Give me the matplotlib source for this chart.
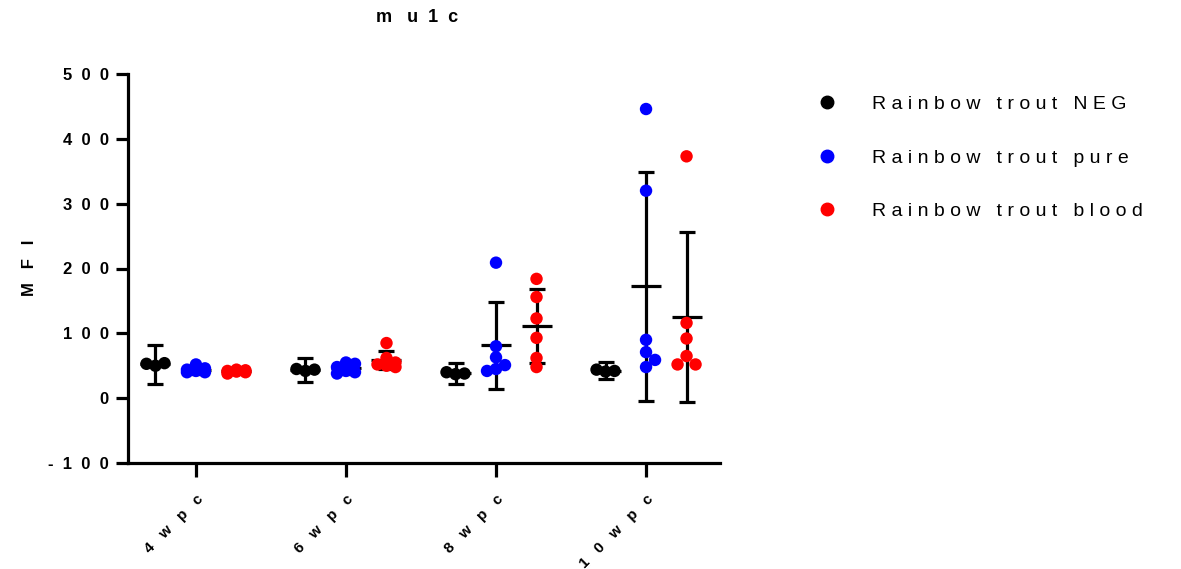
import numpy as np
import matplotlib.pyplot as plt
from matplotlib.lines import Line2D

plt.rcParams['font.family'] = ['Liberation Sans', 'DejaVu Sans']

# data
groups = ["4 wpc", "6 wpc", "8 wpc", "10 wpc"]
series = ["Rainbow trout NEG", "Rainbow trout pure", "Rainbow trout blood"]
colors = ["#000000", "#0000ff", "#ff0000"]

neg_vals = [[50, 54, 53], [42, 44, 45], [37, 38, 40], [41, 42, 44]]
pure_vals = [[52, 46, 44, 42, 40, 40],
             [55, 53, 48, 42, 40, 38],
             [209, 80, 63, 51, 45, 42],
             [446, 320, 90, 71, 59, 48]]
blood_vals = [[44, 43, 42, 41, 40, 38],
              [85, 62, 55, 52, 50, 48],
              [184, 156, 123, 93, 62, 48],
              [373, 116, 92, 65, 52, 52]]
neg_sd = [30, 19, 16, 13]
pure_sd = [6, 8, 67, 177]
blood_sd = [3, 14, 57, 131]

yticks = [-100, 0, 100, 200, 300, 400, 500]


def spaced(s, n=1):
    return (" " * n).join(list(s))


def swarm(ax, xc, vals, diam):
    # rough beeswarm in pixel space, dots may overlap a bit like in Prism
    step = diam * 0.72
    pts = ax.transData.transform(np.column_stack([np.full(len(vals), xc), vals]))
    placed = []
    xs = []
    for px, py in pts:
        best, best_d = px, -1
        for k in [0, 1, -1]:
            cx = px + k * step
            d = min([np.hypot(cx - qx, py - qy) for qx, qy in placed] or [1e9])
            if d >= step:
                best = cx
                break
            if d > best_d:
                best, best_d = cx, d
        placed.append((best, py))
        xs.append(ax.transData.inverted().transform((best, py))[0])
    return xs


fig = plt.figure(figsize=(11.81, 5.69), dpi=100)
ax = fig.add_axes([128 / 1181, 1 - 463 / 569, (720 - 128) / 1181, (463 - 74) / 569])
ax.set_xlim(-0.453, 3.493)
ax.set_ylim(-100, 500)

offsets = [-0.27, 0.0, 0.27]
all_vals = [neg_vals, pure_vals, blood_vals]
all_sd = [neg_sd, pure_sd, blood_sd]

for s, (vals, sds, col, off) in enumerate(zip(all_vals, all_sd, colors, offsets)):
    for g in range(len(groups)):
        xc = g + off
        m = np.mean(vals[g])
        ax.errorbar([xc], [m], yerr=[sds[g]], fmt='none', ecolor='black',
                    elinewidth=2.3, capsize=6, capthick=2.3, zorder=2)
        ax.hlines(m, xc - 0.1, xc + 0.1, color='black', lw=2.3, zorder=2)
        xs = swarm(ax, xc, vals[g], 12.5)
        ax.scatter(xs, vals[g], s=80, color=col, edgecolors='none', zorder=3)

ax.spines['top'].set_visible(False)
ax.spines['right'].set_visible(False)
ax.spines['left'].set_linewidth(2.3)
ax.spines['bottom'].set_linewidth(2.3)

ax.set_yticks(yticks)
ax.set_yticklabels([spaced(str(v), 2) for v in yticks], fontsize=12, fontweight='bold')
ax.set_xticks(range(len(groups)))
ax.set_xticklabels([spaced(g.replace(" ", ""), 3) for g in groups], fontsize=11,
                   fontweight='bold', rotation=45, ha='right', va='top',
                   rotation_mode='anchor')
ax.tick_params(axis='y', length=9, width=2.3, pad=5)
ax.tick_params(axis='x', length=10, width=2.3, pad=11)

fig.text(417 / 1181, 1 - 18 / 569, "m   u  1  c", ha='center', va='center',
         fontsize=13, fontweight='bold')
fig.text(30 / 1181, 1 - 268 / 569, spaced("MFI", 3), ha='center', va='center',
         rotation=90, fontsize=12, fontweight='bold')

handles = [Line2D([], [], ls='none', marker='o', markersize=9, color=c) for c in colors]
fig.legend(handles, [spaced(s) for s in series], loc='upper left',
           bbox_to_anchor=(800 / 1181, 1 - 78 / 569), frameon=False, fontsize=14,
           handlelength=1.0, handletextpad=1.8, labelspacing=1.85)

fig.savefig("out.png", dpi=100)
